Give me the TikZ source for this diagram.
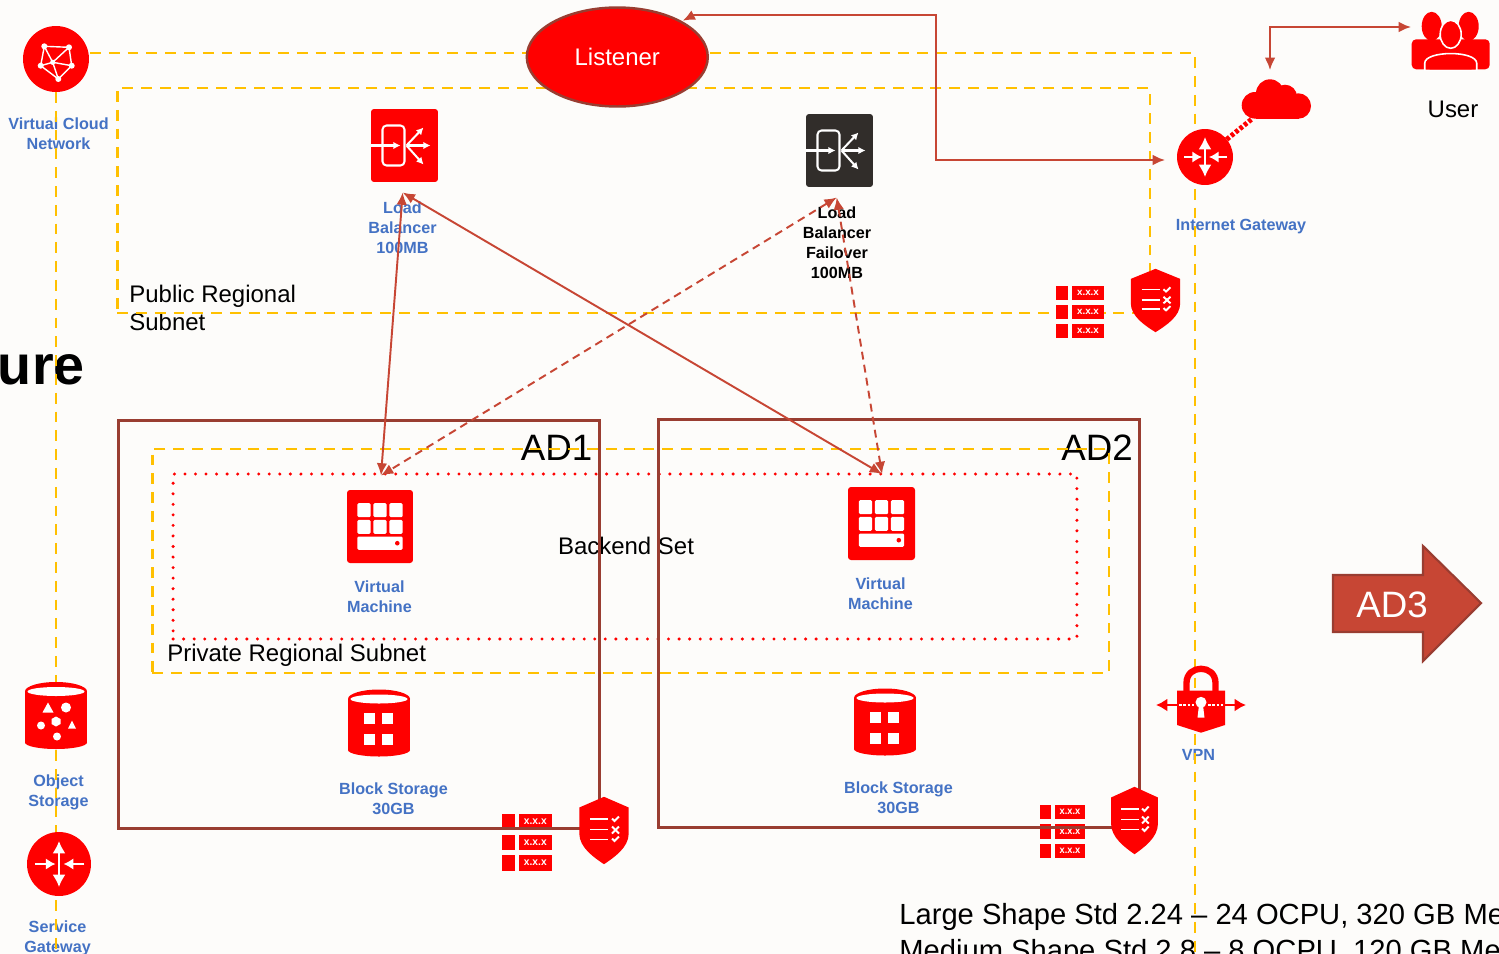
\documentclass[tikz,border=0pt]{standalone}
\usepackage{fontspec}
\setmainfont{Liberation Sans}
\usetikzlibrary{arrows.meta,shapes.geometric}
\definecolor{paper}{HTML}{FDFCFA}
\definecolor{oraclered}{HTML}{FF0000}
\definecolor{linkred}{HTML}{C74634}
\definecolor{adbrown}{HTML}{993D31}
\definecolor{subnetgold}{HTML}{FFC000}
\definecolor{labelblue}{HTML}{4472C4}
\definecolor{darktile}{HTML}{312D2A}
\newcommand{\linkarw}{{Latex[length=7pt,width=6pt]}-{Latex[length=7pt,width=6pt]}}
\newcommand{\whitearw}{-{Latex[length=4pt,width=4.2pt]}}
\newcommand{\labelfont}{\fontsize{9.2}{11.35}\selectfont\bfseries}
\newcommand{\bodyfont}{\fontsize{13.65}{15.6}\selectfont}
\newcommand{\adfont}{\fontsize{20.9}{24}\selectfont}
\tikzset{
  iconlabel/.style={font=\labelfont,text=labelblue,align=center,inner sep=0pt},
  blacklabel/.style={font=\labelfont,text=black,align=center,inner sep=0pt},
  bodytext/.style={font=\bodyfont,text=black,inner sep=0pt},
  adtext/.style={font=\adfont,text=black,inner sep=0pt,anchor=base},
  notetext/.style={font=\fontsize{16.6}{19}\selectfont,text=black,inner sep=0pt,anchor=base west},
  hollow/.style={inner sep=0pt,outer sep=0pt},
  tile/.style={hollow,fill=oraclered,rounded corners=1.7pt},
  subnetbox/.style={hollow,draw=subnetgold,line width=1.6pt,dash pattern=on 6.2pt off 4.5pt},
  vcnline/.style={draw=subnetgold,line width=1.6pt,dash pattern=on 6.2pt off 4.5pt},
  backendbox/.style={hollow,draw=oraclered,line width=1.9pt,line cap=round,dash pattern=on 0pt off 6pt},
  adbox/.style={hollow,draw=adbrown,line width=1.7pt},
  link/.style={draw=linkred,line width=1.1pt},
  dashlink/.style={link,dash pattern=on 4.5pt off 3pt},
  addr/.style={hollow,fill=oraclered,text=white,font=\fontsize{5.6}{6}\selectfont\bfseries,minimum width=.64cm,minimum height=.28cm},
}
%icon glyphs, all drawn around the centre of a node
\newcommand{\lbglyph}[1]{\begin{scope}[shift={#1},white,line width=1.15pt]
  \draw[rounded corners=2.3pt] (-22,-20) rectangle (0,20);
  \draw[\whitearw] (-33.5,0) -- (-4,0);
  \draw[\whitearw] (2,0) -- (26,0);
  \draw[\whitearw] (2,0) -- (19,-18);
  \draw[\whitearw] (2,0) -- (19,19);
\end{scope}}
\newcommand{\vmglyph}[1]{\begin{scope}[shift={#1},white]
  \foreach \cx in {-22.7,-6.7,9.3}{\foreach \cy in {-23.3,-6.7}{
    \fill[rounded corners=.8pt] (\cx,\cy) rectangle ++(13.4,14);}}
  \fill[rounded corners=.8pt] (-22.7,10) rectangle (22.7,23.3);
  \fill[oraclered] (17.3,16.7) circle (2.3);
\end{scope}}
\newcommand{\cylglyph}[1]{\begin{scope}[shift={#1}]
  \fill[oraclered] (0,-24) ellipse (31 and 9.5);
  \fill[oraclered] (-31,-24) rectangle (31,27);
  \fill[oraclered] (0,27) ellipse (31 and 6.5);
  \fill[white] (0,-24) ellipse (28.5 and 4.5);
\end{scope}}
\newcommand{\blockglyph}[1]{\begin{scope}[shift={#1},white]
  \foreach \cx in {-15,3}{\foreach \cy in {-10,10.7}{
    \fill (\cx,\cy) rectangle ++(11.3,11.3);}}
\end{scope}}
\newcommand{\objectglyph}[1]{\begin{scope}[shift={#1},white]
  \fill (-8,-13) -- (-13.5,-3) -- (-2.5,-3) -- cycle;
  \fill (10,-8) circle (5);
  \fill (-15,10) circle (4);
  \fill (0,1) -- (4.5,3.5) -- (4.5,8.5) -- (0,11) -- (-4.5,8.5) -- (-4.5,3.5) -- cycle;
  \fill (16,5) -- (12,13) -- (20,13) -- cycle;
  \fill (1,21) circle (4);
\end{scope}}
\newcommand{\routerglyph}[2]{\begin{scope}[shift={#1},scale=#2,white,line width=1.6pt]
  \draw[{Latex[length=7pt,width=7.5pt]}-{Latex[length=7pt,width=7.5pt]}] (0,-20) -- (0,20);
  \draw[-{Latex[length=5.5pt,width=6.5pt]}] (-21,0) -- (-3,0);
  \draw[-{Latex[length=5.5pt,width=6.5pt]}] (22,0) -- (4,0);
\end{scope}}
\newcommand{\vcnglyph}[1]{\begin{scope}[shift={#1},white,line width=.8pt]
  \draw (-11.7,-12.7) -- (13,-11.7) -- (15.7,6.7) -- (2.3,20) -- (-15.3,6.7) -- cycle;
  \foreach \px/\py in {-11.7/-12.7,13/-11.7,15.7/6.7,2.3/20,-15.3/6.7}{
    \draw (-3.3,3.3) -- (\px,\py);
    \fill (\px,\py) circle (3);}
  \fill (-3.3,3.3) circle (2.6);
\end{scope}}
\newcommand{\cloudglyph}[1]{\begin{scope}[shift={#1},oraclered]
  \fill (-6.5,-5.7) circle (14);
  \fill (8.5,-2.3) circle (12);
  \fill (-21.5,6.3) circle (13.3);
  \fill (21.8,7) circle (12.7);
  \fill (-21,0) rectangle (22,19.7);
\end{scope}}
\newcommand{\userglyph}[1]{\begin{scope}[shift={#1},oraclered]
  \fill[rounded corners=2.5pt] (-39,28) -- (-39,-2) -- (39,-2) -- (39,28) -- cycle;
  \fill (-19,-15) ellipse (10 and 14.5);
  \fill (18,-15) ellipse (10 and 14.5);
  \draw[white,line width=.9pt,fill=oraclered] (-26,29) -- (-26,22) .. controls (-26,9) and (26,9) .. (26,22) -- (26,29) -- cycle;
  \draw[white,line width=.9pt,fill=oraclered] (0,-7) ellipse (10.5 and 14);
  \fill (-21,28) -- (21,28) -- (21,22) .. controls (21,13) and (-21,13) .. (-21,22) -- cycle;
\end{scope}}
\newcommand{\shieldglyph}[3]{\begin{scope}[shift={#1},xscale=#2,yscale=#3]
  \fill[oraclered] (0,-33.7) -- (24.7,-23) -- (24.7,3) .. controls (24.7,17) and (10,27) .. (0,33.7)
    .. controls (-10,27) and (-24.7,17) .. (-24.7,3) -- (-24.7,-23) -- cycle;
  \begin{scope}[white,line width=1.1pt]
    \draw (-14,-11.7) -- (4.3,-11.7);
    \draw (-14,-1) -- (4.3,-1);
    \draw (-14,9) -- (4.3,9);
    \draw (8,-12) -- (10.5,-9.5) -- (15,-14);
    \draw (8,-4) -- (15,3);
    \draw (8,3) -- (15,-4);
    \draw (8,8) -- (10.5,10.5) -- (15,6);
  \end{scope}
\end{scope}}
\newcommand{\seclist}[3]{\begin{scope}[shift={#2},#3,transform shape]
  \foreach \i/\rowy in {1/-19,2/0,3/19}{
    \fill[oraclered] (-24,\rowy-7) rectangle (-12,\rowy+7);
    \node[addr] (#1\i) at (8,\rowy) {x.x.x};}
\end{scope}}
\newcommand{\vpnglyph}[1]{\begin{scope}[shift={#1}]
  \draw[oraclered,line width=3.6pt] (-14.5,-12) -- (-14.5,-22) .. controls (-14.5,-41) and (14.5,-41) .. (14.5,-22) -- (14.5,-12);
  \fill[oraclered] (-24,-14.3) -- (24,-14.3) -- (24,20) -- (0,27.7) -- (-24,20) -- cycle;
  \draw[oraclered,line width=1.4pt,{Latex[length=6.5pt,width=7.5pt]}-{Latex[length=6.5pt,width=7.5pt]}] (-45,0) -- (45,0);
  \draw[white,line width=1.4pt,dash pattern=on 1.5pt off 1pt] (-22,0) -- (-7,0);
  \draw[white,line width=1.4pt,dash pattern=on 1.5pt off 1pt] (7,0) -- (22,0);
  \fill[white] (0,-2.7) circle (5.5);
  \fill[white] (-2,0) -- (2,0) -- (3.5,12.7) -- (-3.5,12.7) -- cycle;
\end{scope}}

\begin{document}
\begin{tikzpicture}[x=.02cm,y=-.02cm]
\useasboundingbox (0,0) rectangle (1499,954);
\fill[paper] (0,0) rectangle (1499,954);
%labels, they lie under the subnet lines
\node[iconlabel] (vcnlabel) at (58.5,134) {Virtual Cloud\\Network};
\node[iconlabel] (lbAlabel) at (402.5,228) {Load\\Balancer\\100MB};
\node[blacklabel] (lbBlabel) at (837,243) {Load\\Balancer\\Failover\\100MB};
\node[iconlabel] (igwlabel) at (1241,227) {Internet Gateway};
\node[iconlabel] (vmAlabel) at (379.5,596.5) {Virtual\\Machine};
\node[iconlabel] (vmBlabel) at (880.5,593.5) {Virtual\\Machine};
\node[iconlabel] (blockAlabel) at (393.5,798.5) {Block Storage\\30GB};
\node[iconlabel] (blockBlabel) at (898.5,797.5) {Block Storage\\30GB};
\node[iconlabel] (objectlabel) at (58.5,792) {Object\\Storage};
\node[iconlabel] (sgwlabel) at (57.5,938) {Service\\Gateway};
\node[iconlabel] (vpnlabel) at (1198.5,755) {VPN};
\node[bodytext,anchor=base] (userlabel) at (1453,117) {User};
\node[bodytext,anchor=west,align=left] (publabel) at (129,308) {Public Regional\\Subnet};
\node[bodytext,anchor=base west] (privlabel) at (167,661) {Private Regional Subnet};
\node[bodytext,anchor=base] (backendlabel) at (626,554) {Backend Set};
\node[adtext] (adAlabel) at (556.5,460.5) {AD1};
\node[adtext] (adBlabel) at (1097,460.5) {AD2};
\node[font=\fontsize{31.7}{34}\selectfont\bfseries,inner sep=0pt,anchor=base east] (titlepart) at (85,384) {ure};
\node[notetext] (largenote) at (899,924) {Large Shape Std 2.24 – 24 OCPU, 320 GB Me};
\node[notetext] (mediumnote) at (899,960) {Medium Shape Std 2.8 – 8 OCPU, 120 GB Me};
%subnets and the cloud network
\coordinate (vcnright) at (90,53);
\coordinate (vcncorner) at (1195,53);
\coordinate (vcnendR) at (1195,954);
\coordinate (vcnbase) at (56,92);
\coordinate (vcnendL) at (56,954);
\draw[vcnline] (vcnright) -- (vcncorner) -- (vcnendR);
\draw[vcnline] (vcnbase) -- (vcnendL);
\node[subnetbox,minimum width=20.66cm,minimum height=4.5cm] (pubnet) at (633.5,200.5) {};
\node[subnetbox,minimum width=19.14cm,minimum height=4.48cm] (privnet) at (630.5,561) {};
\node[backendbox,minimum width=18.08cm,minimum height=3.3cm] (backend) at (625,556.5) {};
%icons
\node[circle,hollow,fill=oraclered,minimum size=1.32cm] (vcn) at (56,59) {};
\vcnglyph{(vcn.center)}
\node[ellipse,hollow,fill=oraclered,draw=adbrown,line width=1.4pt,minimum width=3.62cm,minimum height=1.98cm,text=white,font=\bodyfont] (listener) at (617.3,57) {Listener};
\node[tile,minimum width=1.34cm,minimum height=1.46cm] (lbA) at (404.5,145.5) {};
\lbglyph{(lbA.center)}
\node[tile,fill=darktile,minimum width=1.34cm,minimum height=1.46cm] (lbB) at (839.5,150.5) {};
\lbglyph{(lbB.center)}
\node[tile,minimum width=1.32cm,minimum height=1.46cm] (vmA) at (380,526.5) {};
\vmglyph{(vmA.center)}
\node[tile,minimum width=1.34cm,minimum height=1.46cm] (vmB) at (881.5,523.5) {};
\vmglyph{(vmB.center)}
\node[hollow,minimum width=1.24cm,minimum height=1.32cm] (blockA) at (379,723) {};
\cylglyph{(blockA.center)}
\blockglyph{(blockA.center)}
\node[hollow,minimum width=1.24cm,minimum height=1.32cm] (blockB) at (885,722) {};
\cylglyph{(blockB.center)}
\blockglyph{(blockB.center)}
\node[hollow,minimum width=1.24cm,minimum height=1.34cm] (object) at (56,715.5) {};
\cylglyph{(object.center)}
\objectglyph{(object.center)}
\node[circle,hollow,fill=oraclered,minimum size=1.28cm] (sgw) at (59,864) {};
\routerglyph{(sgw.center)}{1.15}
\node[circle,hollow,fill=oraclered,minimum size=1.12cm] (igw) at (1205,157) {};
\routerglyph{(igw.center)}{1}
\node[hollow,minimum width=1.38cm,minimum height=.8cm] (cloud) at (1276.5,99) {};
\cloudglyph{(cloud.center)}
\node[hollow,minimum width=1.56cm,minimum height=1.14cm] (user) at (1450.7,41.3) {};
\userglyph{(user.center)}
\node[hollow,minimum width=1.8cm,minimum height=1.36cm] (vpn) at (1201,705) {};
\vpnglyph{(vpn.center)}
\seclist{listA}{(1080,312)}{xscale=1,yscale=1}
\seclist{listB}{(527,842.5)}{xscale=1.04,yscale=1.08}
\seclist{listC}{(1062.5,831.5)}{xscale=.94,yscale=1.03}
\draw[oraclered,line width=2.8pt,dash pattern=on 2pt off 1.2pt] (igw) -- (cloud);
%availability domains
\node[adbox,minimum width=9.64cm,minimum height=8.18cm] (adA) at (359,624.5) {};
\node[adbox,minimum width=9.64cm,minimum height=8.18cm] (adB) at (899,623.5) {};
\node[hollow,minimum width=.98cm,minimum height=1.26cm] (shieldA) at (1155.5,300.5) {};
\shieldglyph{(shieldA.center)}{1}{.94}
\node[hollow,minimum width=1cm,minimum height=1.34cm] (shieldB) at (604,830.5) {};
\shieldglyph{(shieldB.center)}{1}{1}
\node[hollow,minimum width=.94cm,minimum height=1.34cm] (shieldC) at (1134.5,820.5) {};
\shieldglyph{(shieldC.center)}{.95}{1}
%next domain
\fill[linkred,draw=adbrown,line width=1.2pt] (1333,575) -- (1423,575) -- (1423,546) -- (1481,603) -- (1423,661) -- (1423,632) -- (1333,632) -- cycle;
\node[font=\adfont,text=white,inner sep=0pt,anchor=base] (adC) at (1392,617) {AD3};
%links
\coordinate (listenerport) at (682.7,20.7);
\coordinate (listenerbend) at (694,15);
\coordinate (listenerturn) at (936,15);
\coordinate (igwturn) at (936,160);
\coordinate (igwport) at (1165,160);
\coordinate (cloudport) at (1270,70);
\coordinate (userport) at (1411,27);
\coordinate (lbAport) at (402.7,192.5);
\coordinate (lbBport) at (836.7,197.5);
\coordinate (vmAport) at (381,475.5);
\coordinate (vmBport) at (882,474);
\draw[link,\linkarw] (listenerport) -- (listenerbend) -- (listenerturn) -- (igwturn) -- (igwport);
\draw[link,\linkarw] (cloudport) |- (userport);
\draw[link,\linkarw] (lbAport) -- (vmAport);
\draw[link,\linkarw] (lbAport) -- (vmBport);
\draw[dashlink,\linkarw] (lbBport) -- (vmAport);
\draw[dashlink,\linkarw] (lbBport) -- (vmBport);
\end{tikzpicture}
\end{document}
